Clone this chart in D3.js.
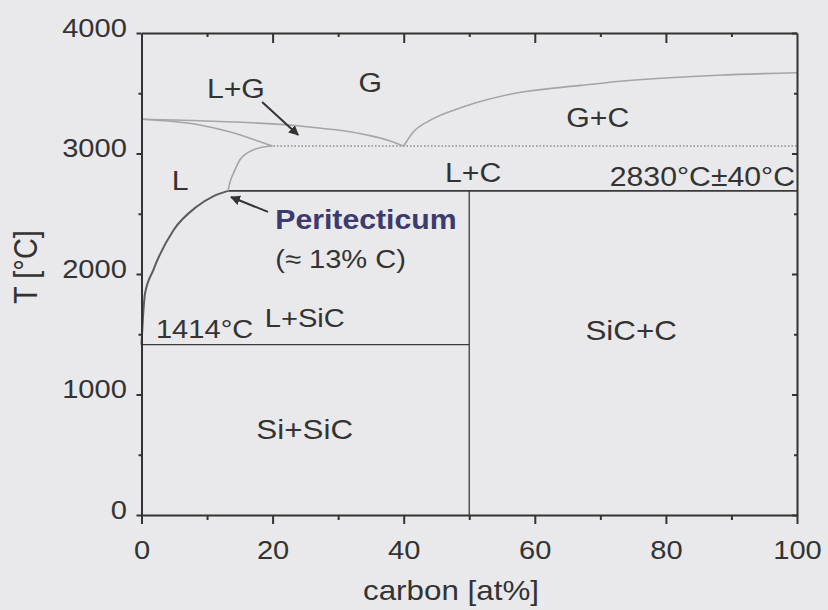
<!DOCTYPE html>
<html>
<head>
<meta charset="utf-8">
<script src="https://cdnjs.cloudflare.com/ajax/libs/d3/7.8.5/d3.min.js"></script>
<style>
  body { margin: 0; background: #e9e9eb; }
  svg { display: block; font-family: 'Liberation Sans', Arial, sans-serif; }
</style>
</head>
<body>
<svg id="chart"></svg>
<script>
// Si-C phase diagram: carbon [at%] vs T [°C]
const xTicks = [0, 20, 40, 60, 80, 100];
const xMinorTicks = [10, 30, 50, 70, 90];
const yTicks = [0, 1000, 2000, 3000, 4000];
const yMinorTicks = [500, 1500, 2500, 3500];

// boundaries as [carbon at%, T °C]
const liquidusSi = [[0, 1414], [0.3, 1700], [0.5, 1826], [1.8, 2033], [4.9, 2365], [8.4, 2558], [11, 2647], [13.2, 2690]];
const liquidusHigh = [[13.2, 2690], [13.6, 2780], [14, 2832], [15, 2946], [17, 3029], [19.6, 3062]];
const gasLiquidLow = [[0, 3284], [8.9, 3237], [14, 3172], [18.1, 3098], [20, 3062]];
const gasLiquidHigh = [[0, 3284], [8.9, 3272], [24.2, 3228], [34.4, 3154], [37.5, 3112], [39.9, 3062]];
const gasCarbon = [[40, 3062], [41.5, 3180], [44, 3275], [49, 3385], [57, 3500], [67, 3565], [73, 3600], [88, 3650], [100, 3670]];
const liquidCarbon = [[19.6, 3062], [100, 3062]];
const siEutectic = [[0, 1414], [50, 1414]];
const peritectic = [[13.2, 2690], [100, 2690]];
const sicLine = [[50, 0], [50, 2690]];

const phaseLabels = [
  { text: 'G', at: [34.9, 3510] },
  { text: 'L+G', at: [14.4, 3461] },
  { text: 'G+C', at: [69.6, 3220] },
  { text: 'L', at: [5.9, 2697] },
  { text: 'L+C', at: [50.6, 2763] },
  { text: 'Si+SiC', at: [24.9, 631] },
  { text: 'SiC+C', at: [74.7, 1450] }
];
const lgArrow = [[18.4, 3427], [23.9, 3154]];
const periArrow = [[19.3, 2515], [13.65, 2639]];

const width = 828;
const height = 610;
const sx = 1.12; // the scan is stretched a bit horizontally
const ink = '#333';

const x = d3.scaleLinear().domain([0, 100]).range([141.5, 797]);
const y = d3.scaleLinear().domain([0, 4000]).range([515, 33]);

const svg = d3.select('#chart').attr('width', width).attr('height', height);
svg.append('rect').attr('width', width).attr('height', height).attr('fill', '#e9e9eb');

const defs = svg.append('defs');
defs.append('marker')
  .attr('id', 'head')
  .attr('viewBox', '0 0 10 10')
  .attr('refX', 9)
  .attr('refY', 5)
  .attr('markerWidth', 5)
  .attr('markerHeight', 5)
  .attr('orient', 'auto')
  .append('path')
  .attr('d', 'M0,0L10,5L0,10z')
  .attr('fill', ink);

const line = d3.line().x((d) => x(d[0])).y((d) => y(d[1]));
const curve = d3.line().x((d) => x(d[0])).y((d) => y(d[1])).curve(d3.curveMonotoneX);

// straight phase lines
svg.append('path').attr('d', line(siEutectic)).attr('stroke', '#3a3a3a').attr('stroke-width', 1.3).attr('fill', 'none');
svg.append('path').attr('d', line(sicLine)).attr('stroke', '#3a3a3a').attr('stroke-width', 1.3).attr('fill', 'none');
svg.append('path').attr('d', line(peritectic)).attr('stroke', '#3a3a3a').attr('stroke-width', 1.8).attr('fill', 'none');
svg.append('path').attr('d', line(liquidCarbon))
  .attr('stroke', '#8a8a90').attr('stroke-width', 1.5).attr('stroke-dasharray', '1.5,2').attr('fill', 'none');

// curved boundaries
svg.append('path').attr('d', curve(liquidusSi)).attr('stroke', '#5c5c5c').attr('stroke-width', 2).attr('fill', 'none');
[liquidusHigh, gasLiquidLow, gasLiquidHigh, gasCarbon].forEach((pts) => {
  svg.append('path').attr('d', curve(pts)).attr('stroke', '#a5a5a8').attr('stroke-width', 1.6).attr('fill', 'none');
});

// axes and frame
const styleAxis = (g) => {
  g.selectAll('path, line').attr('stroke', ink).attr('stroke-width', 2);
  g.selectAll('text').attr('fill', ink).attr('font-size', 26).attr('font-family', null);
};

svg.append('g')
  .attr('transform', `translate(0,${y(0)})`)
  .call(d3.axisBottom(x).tickValues(xTicks).tickFormat(d3.format('d')).tickSizeInner(9).tickSizeOuter(0).tickPadding(17))
  .call(styleAxis)
  .call((g) => g.selectAll('text').attr('transform', `scale(${sx},1)`));
svg.append('g')
  .attr('transform', `translate(0,${y(0)})`)
  .call(d3.axisBottom(x).tickValues(xMinorTicks).tickSize(5).tickFormat(''))
  .call(styleAxis)
  .call((g) => g.select('.domain').remove());

svg.append('g')
  .attr('transform', `translate(${x(0)},0)`)
  .call(d3.axisLeft(y).tickValues(yTicks).tickFormat(d3.format('d')).tickSizeInner(5).tickSizeOuter(0).tickPadding(8))
  .call(styleAxis)
  .call((g) => g.selectAll('text').attr('dy', '0.12em').attr('transform', `scale(${sx},1)`));
svg.append('g')
  .attr('transform', `translate(${x(0)},0)`)
  .call(d3.axisLeft(y).tickValues(yMinorTicks).tickSize(3).tickFormat(''))
  .call(styleAxis)
  .call((g) => g.select('.domain').remove());

svg.append('g')
  .attr('transform', `translate(0,${y(4000)})`)
  .call(d3.axisTop(x).tickValues(xTicks.slice(1, -1)).tickSizeInner(-10).tickSizeOuter(0).tickFormat(''))
  .call(styleAxis);
svg.append('g')
  .attr('transform', `translate(0,${y(4000)})`)
  .call(d3.axisTop(x).tickValues(xMinorTicks).tickSize(-4).tickFormat(''))
  .call(styleAxis)
  .call((g) => g.select('.domain').remove());

svg.append('g')
  .attr('transform', `translate(${x(100)},0)`)
  .call(d3.axisRight(y).tickValues(yTicks).tickSizeInner(-5).tickSizeOuter(0).tickFormat(''))
  .call(styleAxis);
svg.append('g')
  .attr('transform', `translate(${x(100)},0)`)
  .call(d3.axisRight(y).tickValues(yMinorTicks).tickSize(-3).tickFormat(''))
  .call(styleAxis)
  .call((g) => g.select('.domain').remove());

// axis titles
svg.append('text')
  .attr('transform', `translate(451,600) scale(${sx},1)`)
  .attr('text-anchor', 'middle')
  .attr('font-size', 28)
  .attr('fill', ink)
  .text('carbon [at%]');
svg.append('text')
  .attr('transform', `translate(37,267) rotate(-90) scale(1,${sx})`)
  .attr('text-anchor', 'middle')
  .attr('font-size', 29)
  .attr('fill', ink)
  .text('T [°C]');

// annotations
const annotate = (text, c, t, anchor, size, color = ink, weight = 'normal') => {
  svg.append('text')
    .attr('transform', `translate(${x(c)},${y(t)}) scale(${sx},1)`)
    .attr('text-anchor', anchor)
    .attr('font-size', size)
    .attr('font-weight', weight)
    .attr('fill', color)
    .text(text);
};

phaseLabels.forEach((d) => {
  const size = d.text.includes('Si') ? 28 : 27;
  annotate(d.text, d.at[0], d.at[1], 'middle', size);
});
annotate('2830°C±40°C', 99.7, 2730, 'end', 27);
annotate('Peritecticum', 20.4, 2373, 'start', 27, '#3c3a6e', 'bold');
annotate('(≈ 13% C)', 20.4, 2050, 'start', 26);
annotate('1414°C', 2.2, 1469, 'start', 26);
annotate('L+SiC', 18.8, 1560, 'start', 26);

[lgArrow, periArrow].forEach((pts) => {
  svg.append('path')
    .attr('d', line(pts))
    .attr('stroke', ink)
    .attr('stroke-width', 2)
    .attr('fill', 'none')
    .attr('marker-end', 'url(#head)');
});
</script>
</body>
</html>
